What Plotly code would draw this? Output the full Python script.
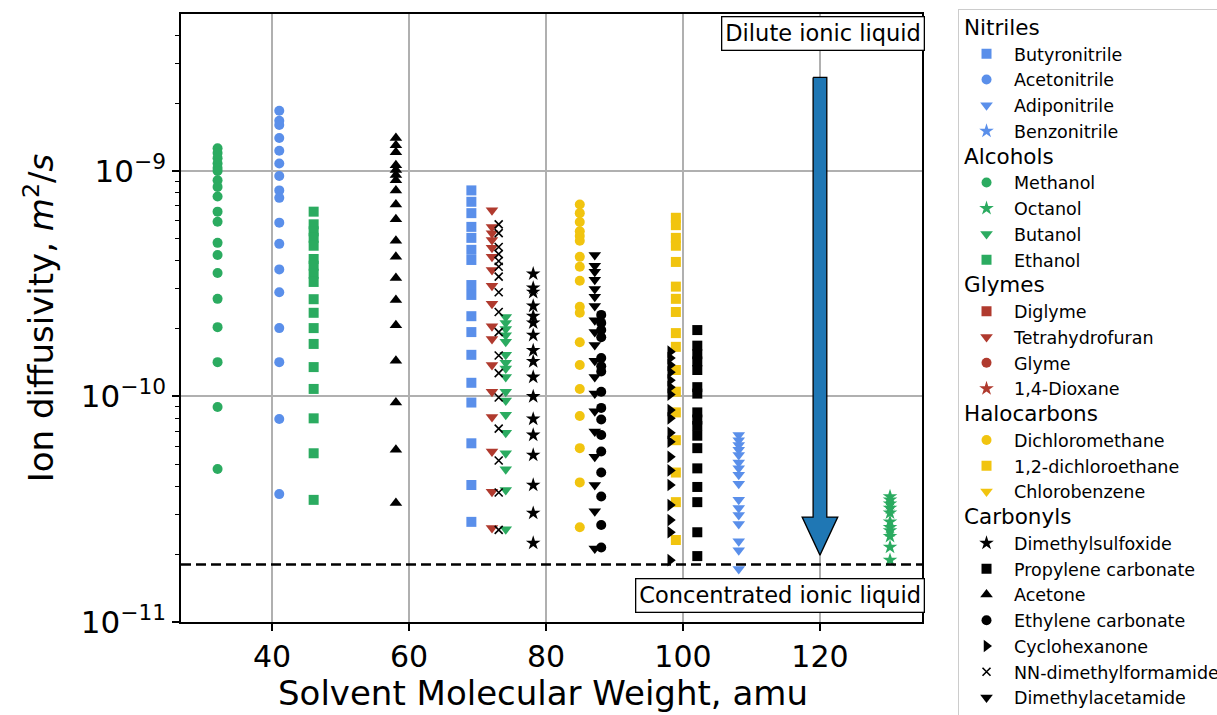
import plotly.graph_objects as go

FONT = "DejaVu Sans"
BLUE = "#5a8fea"
GREEN = "#2bab60"
RED = "#b03a2e"
YELLOW = "#f1c40f"
BLACK = "#000000"

# ---------------- data (ion diffusivity, m^2/s) ----------------
# Nitriles
butyronitrile_mw = 69.1
butyronitrile_d = [8.2e-10, 7.3e-10, 6.5e-10, 5.65e-10, 5.05e-10, 4.47e-10, 4.03e-10, 3.12e-10,
                   2.82e-10, 2.27e-10, 1.93e-10, 1.53e-10, 1.15e-10, 9.4e-11, 6.2e-11, 4.05e-11, 2.78e-11]
acetonitrile_mw = 41.05
acetonitrile_d = [1.85e-9, 1.67e-9, 1.6e-9, 1.40e-9, 1.23e-9, 1.08e-9, 9.5e-10, 8.2e-10, 7.6e-10,
                  5.9e-10, 4.75e-10, 3.66e-10, 2.9e-10, 2.01e-10, 1.42e-10, 7.95e-11, 3.69e-11]
adiponitrile_mw = 108.14
adiponitrile_d = [6.75e-11, 6.4e-11, 6.1e-11, 5.8e-11, 5.5e-11, 5.1e-11, 4.8e-11, 4.5e-11, 4.1e-11,
                  3.48e-11, 3.2e-11, 2.98e-11, 2.72e-11, 2.28e-11, 2.08e-11, 1.72e-11]
benzonitrile_mw = 103.12
benzonitrile_d = [None]
# Alcohols
methanol_mw = 32.04
methanol_d = [1.26e-9, 1.20e-9, 1.14e-9, 1.08e-9, 1.03e-9, 1.0e-9, 9.1e-10, 8.5e-10, 7.7e-10, 6.6e-10,
              5.95e-10, 4.8e-10, 4.24e-10, 3.53e-10, 2.71e-10, 2.03e-10, 1.42e-10, 8.98e-11, 4.77e-11]
octanol_mw = 130.23
octanol_d = [3.6e-11, 3.48e-11, 3.34e-11, 3.2e-11, 3.05e-11, 2.78e-11, 2.63e-11, 2.54e-11, 2.4e-11,
             2.15e-11, 1.88e-11]
butanol_mw = 74.12
butanol_d = [2.25e-10, 2.12e-10, 1.99e-10, 1.87e-10, 1.75e-10, 1.53e-10, 1.41e-10, 1.33e-10, 1.22e-10,
             1.05e-10, 9.6e-11, 8.3e-11, 6.9e-11, 5.6e-11, 4.76e-11, 3.85e-11, 2.58e-11]
ethanol_mw = 46.07
ethanol_d = [6.6e-10, 5.8e-10, 5.4e-10, 5.05e-10, 4.66e-10, 4.07e-10, 3.8e-10, 3.5e-10, 3.22e-10,
             2.7e-10, 2.35e-10, 2.01e-10, 1.71e-10, 1.35e-10, 1.08e-10, 8.0e-11, 5.6e-11, 3.48e-11]
# Glymes
diglyme_mw = 134.17
diglyme_d = [None]
thf_mw = 72.11
thf_d = [6.7e-10, 5.65e-10, 5.3e-10, 4.94e-10, 4.56e-10, 4.16e-10, 3.64e-10, 3.1e-10, 2.58e-10,
         2.05e-10, 1.8e-10, 1.38e-10, 1.05e-10, 8.1e-11, 5.7e-11, 3.78e-11, 2.61e-11]
glyme_mw = 90.12
glyme_d = [None]
dioxane_mw = 88.11
dioxane_d = [None]
# Halocarbons
dcm_mw = 84.93
dcm_d = [7.1e-10, 6.5e-10, 5.94e-10, 5.4e-10, 5.15e-10, 4.9e-10, 4.16e-10, 3.76e-10, 3.26e-10,
         2.5e-10, 2.35e-10, 1.74e-10, 1.38e-10, 1.08e-10, 8.2e-11, 5.9e-11, 4.16e-11, 2.63e-11]
dce_mw = 98.96
dce_d = [6.2e-10, 5.75e-10, 5.05e-10, 4.66e-10, 3.95e-10, 3.07e-10, 2.71e-10, 2.37e-10, 1.91e-10,
         1.66e-10, 1.31e-10, 1.05e-10, 8.5e-11, 6.4e-11, 4.6e-11, 3.4e-11, 2.31e-11]
chlorobenzene_mw = 112.56
chlorobenzene_d = [None]
# Carbonyls
dmso_mw = 78.13
dmso_d = [3.5e-10, 3.03e-10, 2.9e-10, 2.52e-10, 2.27e-10, 2.12e-10, 1.87e-10, 1.6e-10, 1.43e-10,
          1.22e-10, 1.0e-10, 7.95e-11, 6.75e-11, 5.5e-11, 4.05e-11, 3.04e-11, 2.24e-11]
pc_mw = 102.09
pc_d = [1.97e-10, 1.68e-10, 1.54e-10, 1.43e-10, 1.31e-10, 1.1e-10, 1.03e-10, 8.5e-11, 7.9e-11,
        7.4e-11, 6.7e-11, 5.9e-11, 4.8e-11, 3.97e-11, 3.4e-11, 2.5e-11, 1.96e-11]
acetone_mw = 58.08
acetone_d = [1.40e-9, 1.30e-9, 1.21e-9, 1.06e-9, 1.01e-9, 9.6e-10, 9.1e-10, 8.2e-10, 7.1e-10, 6.1e-10,
             4.9e-10, 4.16e-10, 3.35e-10, 2.68e-10, 2.07e-10, 1.44e-10, 9.4e-11, 5.8e-11, 3.37e-11]
ec_mw = 88.06
ec_d = [2.3e-10, 2.12e-10, 1.97e-10, 1.83e-10, 1.48e-10, 1.36e-10, 1.29e-10, 1.05e-10, 8.9e-11,
        7.9e-11, 6.75e-11, 5.7e-11, 4.6e-11, 3.6e-11, 2.69e-11, 2.14e-11]
cyclohexanone_mw = 98.14
cyclohexanone_d = [1.58e-10, 1.48e-10, 1.38e-10, 1.28e-10, 1.18e-10, 1.1e-10, 1.02e-10, 8.7e-11, 8.0e-11,
                   6.9e-11, 6.3e-11, 5.4e-11, 4.7e-11, 4.05e-11, 3.3e-11, 2.83e-11, 2.5e-11, 1.88e-11]
dmf_mw = 73.09
dmf_d = [5.8e-10, 5.3e-10, 4.6e-10, 4.28e-10, 3.99e-10, 3.76e-10, 3.4e-10, 2.9e-10, 2.37e-10,
         1.93e-10, 1.52e-10, 1.27e-10, 9.9e-11, 7.2e-11, 5.2e-11, 3.75e-11, 2.56e-11]
dmac_mw = 87.12
dmac_d = [4.24e-10, 3.8e-10, 3.57e-10, 3.29e-10, 3.0e-10, 2.77e-10, 2.52e-10, 2.18e-10, 1.93e-10,
          1.69e-10, 1.44e-10, 1.22e-10, 1.03e-10, 8.6e-11, 7.0e-11, 5.4e-11, 4.05e-11, 3.1e-11, 2.12e-11]

concentrated_limit = 1.8e-11
arrow_x = 120
arrow_top = 2.6e-9
arrow_tip = 1.98e-11
arrow_head_base = 2.92e-11
arrow_half_shaft = 1.0
arrow_half_head = 2.6

y_tickvals = [1e-11, 1e-10, 1e-9]
y_ticktext = ["10<sup>\u221211</sup>", "10<sup>\u221210</sup>", "10<sup>\u22129</sup>"]
x_tickvals = [40, 60, 80, 100, 120]

# (name, group, mw, values, symbol, color, size)
series = [
    ("Butyronitrile", "Nitriles", butyronitrile_mw, butyronitrile_d, "square", BLUE, 10),
    ("Acetonitrile", "Nitriles", acetonitrile_mw, acetonitrile_d, "circle", BLUE, 10),
    ("Adiponitrile", "Nitriles", adiponitrile_mw, adiponitrile_d, "triangle-down", BLUE, 11),
    ("Benzonitrile", "Nitriles", benzonitrile_mw, benzonitrile_d, "star", BLUE, 11),
    ("Methanol", "Alcohols", methanol_mw, methanol_d, "circle", GREEN, 10),
    ("Octanol", "Alcohols", octanol_mw, octanol_d, "star", GREEN, 11),
    ("Butanol", "Alcohols", butanol_mw, butanol_d, "triangle-down", GREEN, 11),
    ("Ethanol", "Alcohols", ethanol_mw, ethanol_d, "square", GREEN, 10),
    ("Diglyme", "Glymes", diglyme_mw, diglyme_d, "square", RED, 10),
    ("Tetrahydrofuran", "Glymes", thf_mw, thf_d, "triangle-down", RED, 11),
    ("Glyme", "Glymes", glyme_mw, glyme_d, "circle", RED, 10),
    ("1,4-Dioxane", "Glymes", dioxane_mw, dioxane_d, "star", RED, 11),
    ("Dichloromethane", "Halocarbons", dcm_mw, dcm_d, "circle", YELLOW, 10),
    ("1,2-dichloroethane", "Halocarbons", dce_mw, dce_d, "square", YELLOW, 10),
    ("Chlorobenzene", "Halocarbons", chlorobenzene_mw, chlorobenzene_d, "triangle-down", YELLOW, 11),
    ("Dimethylsulfoxide", "Carbonyls", dmso_mw, dmso_d, "star", BLACK, 11),
    ("Propylene carbonate", "Carbonyls", pc_mw, pc_d, "square", BLACK, 10),
    ("Acetone", "Carbonyls", acetone_mw, acetone_d, "triangle-up", BLACK, 11),
    ("Ethylene carbonate", "Carbonyls", ec_mw, ec_d, "circle", BLACK, 10),
    ("Cyclohexanone", "Carbonyls", cyclohexanone_mw, cyclohexanone_d, "triangle-right", BLACK, 11),
    ("NN-dimethylformamide", "Carbonyls", dmf_mw, dmf_d, "x-thin", BLACK, 8),
    ("Dimethylacetamide", "Carbonyls", dmac_mw, dmac_d, "triangle-down", BLACK, 11),
]

fig = go.Figure()

# arrow (dilute -> concentrated)
ax_pts = [arrow_x - arrow_half_shaft, arrow_x + arrow_half_shaft, arrow_x + arrow_half_shaft,
          arrow_x + arrow_half_head, arrow_x, arrow_x - arrow_half_head,
          arrow_x - arrow_half_shaft, arrow_x - arrow_half_shaft]
ay_pts = [arrow_top, arrow_top, arrow_head_base, arrow_head_base, arrow_tip, arrow_head_base,
          arrow_head_base, arrow_top]
fig.add_trace(go.Scatter(x=ax_pts, y=ay_pts, mode="lines", fill="toself", fillcolor="#1f77b4",
                         line=dict(color="black", width=1.3), showlegend=False, hoverinfo="skip"))

for name, group, mw, vals, sym, col, size in series:
    marker = dict(symbol=sym, color=col, size=size)
    if sym.startswith("x"):
        marker["line"] = dict(color=col, width=1.6)
    else:
        marker["line"] = dict(width=0)
    fig.add_trace(go.Scatter(
        x=[mw] * len(vals), y=vals, mode="markers", name=name,
        legendgroup=group,
        legendgrouptitle=dict(text="<span style='font-size:21.5px'>%s</span>" % group,
                              font=dict(size=17.5, family=FONT, color="black")),
        marker=marker,
    ))

fig.add_shape(type="line", xref="paper", x0=0, x1=1, yref="y", y0=concentrated_limit,
              y1=concentrated_limit, line=dict(color="black", width=2.5, dash="10px,5px"))

fig.add_annotation(text="Dilute ionic liquid", xref="paper", yref="paper", x=1.004, y=0.997,
                   xanchor="right", yanchor="top", showarrow=False,
                   font=dict(family=FONT, size=22.5, color="black"),
                   bgcolor="white", bordercolor="black", borderwidth=1.3, borderpad=3)
fig.add_annotation(text="Concentrated ionic liquid", xref="paper", yref="paper", x=1.004, y=0.014,
                   xanchor="right", yanchor="bottom", showarrow=False,
                   font=dict(family=FONT, size=22.5, color="black"),
                   bgcolor="white", bordercolor="black", borderwidth=1.3, borderpad=3)

# x-axis title (placed as annotation to match the original's offset)
fig.add_annotation(text="Solvent Molecular Weight, amu", xref="paper", yref="paper",
                   x=0.489, y=-0.117, xanchor="center", yanchor="middle", showarrow=False,
                   font=dict(family=FONT, size=34, color="black"))

minor_vals = [k * 10.0 ** e for e in (-11, -10, -9) for k in range(2, 10)]

fig.update_layout(
    width=1217, height=715,
    margin=dict(l=181, r=295, t=14, b=93, autoexpand=False),
    plot_bgcolor="white", paper_bgcolor="white",
    font=dict(family=FONT, color="black"),
    legend=dict(x=1.0486, y=1.008, xanchor="left", yanchor="top",
                bordercolor="#cccccc", borderwidth=1, bgcolor="white",
                font=dict(family=FONT, size=17.5, color="black"),
                tracegroupgap=0, itemwidth=45, maxheight=1000, traceorder="grouped"),
    xaxis=dict(
        range=[26.7, 134.9], tickmode="array", tickvals=x_tickvals,
        showgrid=True, gridcolor="#b0b0b0", gridwidth=1.5,
        showline=True, linecolor="black", linewidth=1.5, mirror=True,
        ticks="outside", ticklen=7, tickwidth=1.5, tickcolor="black",
        tickfont=dict(size=30, family=FONT, color="black"),
        zeroline=False,
    ),
    yaxis=dict(
        type="log", range=[-11, -8.304], tickmode="array", tickvals=y_tickvals, ticktext=y_ticktext,
        showgrid=True, gridcolor="#b0b0b0", gridwidth=1.5,
        showline=True, linecolor="black", linewidth=1.5, mirror=True,
        ticks="outside", ticklen=7, tickwidth=1.5, tickcolor="black",
        tickfont=dict(size=31, family=FONT, color="black"),
        minor=dict(tickmode="array", tickvals=minor_vals, ticks="outside", ticklen=4,
                   tickwidth=1.2, tickcolor="black", showgrid=False),
        title=dict(text="Ion diffusivity, <i>m</i><sup>2</sup>/<i>s</i>",
                   font=dict(size=34, family=FONT, color="black"), standoff=17),
        zeroline=False,
    ),
)

fig.write_html("out.html")
